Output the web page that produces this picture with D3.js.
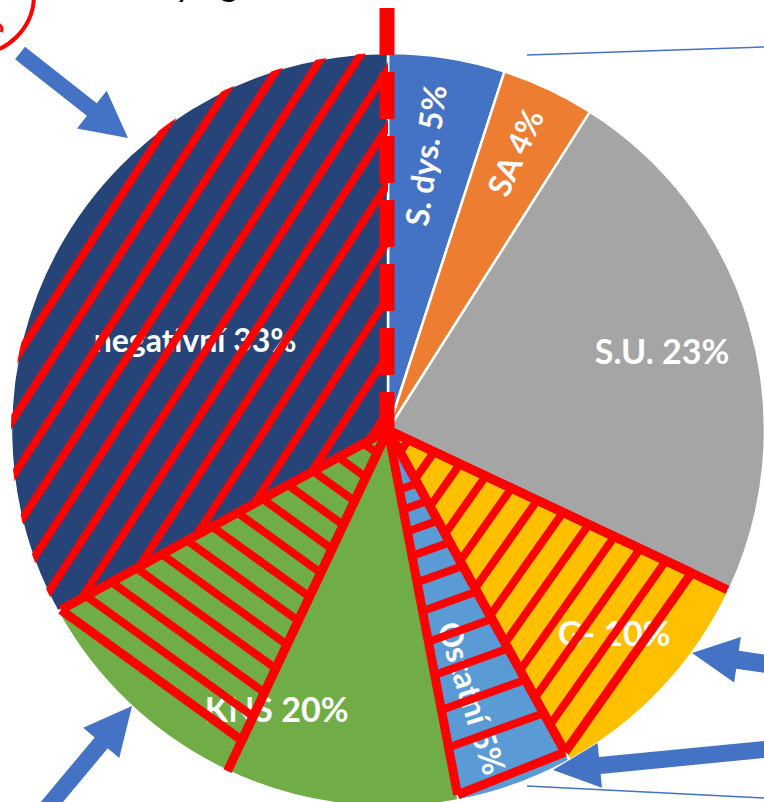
<!DOCTYPE html>
<html>
<head>
<meta charset="utf-8">
<script src="https://cdn.jsdelivr.net/npm/d3@7/dist/d3.min.js"></script>
<style>
  body { margin: 0; background: #fff; overflow: hidden; }
  svg { display: block; }
</style>
</head>
<body>
<div id="pie-graph"></div>
<script>
// chart data
var pie_categories = ["S. dys.", "SA", "S.U.", "G-", "Ostatní", "KNS", "negativní"];
var pie_values = [5, 4, 23, 10, 5, 20, 33];
var pie_colors = ["#4472C4", "#ED7D31", "#A5A5A5", "#FFC000", "#5B9BD5", "#70AD47", "#264478"];
var title_text = "Druhy agens";

// layout
var width = 764, height = 802;
var cx = 388, cy = 430, radius = 377;
var RED = "#FF0000", ARROW_COLOR = "#4472C4";

// label placement per slice (radius factor, angle shift in deg, rotated along radius, font size)
var label_style = {
  "S. dys.":   {rf: 0.735, da: -1.3, rot: true,  size: 32},
  "SA":        {rf: 0.81,  da: -0.7, rot: true,  size: 32},
  "S.U.":      {rf: 0.757, da: 0,    rot: false, size: 34},
  "G-":        {rf: 0.805, da: -1.4, rot: false, size: 34},
  "Ostatní":   {rf: 0.745, da: 2.3,  rot: true,  size: 32},
  "KNS":       {rf: 0.795, da: -3.4, rot: false, size: 34},
  "negativní": {rf: 0.565, da: -5.5, rot: false, size: 32}
};

var svg = d3.select("#pie-graph")
  .append("svg")
  .attr("width", width)
  .attr("height", height);

// title, mostly cut off at the top (as in the original)
svg.append("text")
  .attr("x", 95)
  .attr("y", -4)
  .attr("font-family", "Lato, 'Open Sans', sans-serif")
  .attr("font-size", 36)
  .attr("fill", "#000")
  .text(title_text);

var g = svg.append("g")
  .attr("transform", "translate(" + cx + "," + cy + ")");

var pie = d3.pie().sort(null).value(d => d.value);
var arcs = pie(pie_categories.map((c, i) => ({name: c, value: pie_values[i], color: pie_colors[i]})));
var arc = d3.arc().innerRadius(0).outerRadius(radius);

var byName = {};
arcs.forEach(a => byName[a.data.name] = a);

// slices
g.selectAll("path.slice")
  .data(arcs)
  .enter()
  .append("path")
  .attr("class", "slice")
  .attr("d", arc)
  .attr("fill", d => d.data.color)
  .attr("stroke", "#fff")
  .attr("stroke-width", 2.5);

function pt(a, r) { return [r * Math.sin(a), -r * Math.cos(a)]; }
function mid(d) { return (d.startAngle + d.endAngle) / 2; }

// labels
g.selectAll("text.label")
  .data(arcs)
  .enter()
  .append("text")
  .attr("class", "label")
  .attr("transform", d => {
    var s = label_style[d.data.name];
    var a = mid(d) + s.da * Math.PI / 180;
    var p = pt(a, radius * s.rf);
    var rot = s.rot ? (a * 180 / Math.PI - 90) : 0;
    return "translate(" + p[0] + "," + p[1] + ") rotate(" + rot + ")";
  })
  .attr("text-anchor", "middle")
  .attr("dominant-baseline", "central")
  .attr("font-family", "Lato, 'Open Sans', sans-serif")
  .attr("font-size", d => label_style[d.data.name].size)
  .attr("font-weight", "bold")
  .attr("fill", "#fff")
  .text(d => d.data.name + " " + d.data.value + "%");

// ---- red annotations ----
var ann = g.append("g");
var C = [0, 0];

function redLine(p, q, w) {
  ann.append("line")
    .attr("x1", p[0]).attr("y1", p[1])
    .attr("x2", q[0]).attr("y2", q[1])
    .attr("stroke", RED)
    .attr("stroke-width", w || 9)
    .attr("stroke-linecap", "butt");
}

// hatch of negativni slice, clipped to the slice
g.append("clipPath")
  .attr("id", "neg-clip")
  .append("path")
  .attr("d", arc(byName["negativní"]));

var hatchAngle = 57 * Math.PI / 180;
var dirN = [Math.cos(hatchAngle), -Math.sin(hatchAngle)];
var normN = [Math.sin(hatchAngle), Math.cos(hatchAngle)];
var baseN = [-358, 20];
var negHatch = ann.append("g").attr("clip-path", "url(#neg-clip)");
for (var k = -5; k <= 25; k++) {
  var p = [baseN[0] + k * 31 * normN[0], baseN[1] + k * 31 * normN[1]];
  negHatch.append("line")
    .attr("x1", p[0] - 900 * dirN[0]).attr("y1", p[1] - 900 * dirN[1])
    .attr("x2", p[0] + 900 * dirN[0]).attr("y2", p[1] + 900 * dirN[1])
    .attr("stroke", RED)
    .attr("stroke-width", 8);
}

// hatch inside a triangle C-E1-E2, lines parallel to E1-E2
function hatchTriangle(E1, E2, spacing) {
  var dx = E2[0] - E1[0], dy = E2[1] - E1[1];
  var len = Math.hypot(dx, dy);
  var h = Math.abs(E1[0] * dy - E1[1] * dx) / len;
  for (var s = spacing; s < h - 4; s += spacing) {
    var t = 1 - s / h;
    redLine([E1[0] * t, E1[1] * t], [E2[0] * t, E2[1] * t], 8);
  }
  redLine(C, E1);
  redLine(E1, E2);
  redLine(E2, C);
}

var kns = byName["KNS"], gneg = byName["G-"], ost = byName["Ostatní"];

// KNS: half of the slice hatched
var P1 = pt(kns.endAngle, radius * 0.99);
var P2 = pt(mid(kns), radius * 0.91);
hatchTriangle(P2, P1, 26);
redLine(C, pt(mid(kns), radius));

// G-: triangle hatched
var Q1 = pt(gneg.startAngle, radius * 0.89);
var Q2 = pt(gneg.endAngle, radius * 0.975);
hatchTriangle(Q1, Q2, 28);
redLine(C, pt(gneg.startAngle, radius * 0.995));

// Ostatni: rungs across the slice
var A = Q2;
var B = pt(ost.endAngle, radius * 0.985);
g.append("clipPath")
  .attr("id", "ost-clip")
  .append("path")
  .attr("d", "M0,0L" + A[0] + "," + A[1] + "L" + B[0] + "," + B[1] + "Z");
var om = mid(ost);
var rungDir = [Math.cos(om), Math.sin(om)];
var rungs = ann.append("g").attr("clip-path", "url(#ost-clip)");
for (var d = 60, step = 20; d < 345; d += step, step += 2.2) {
  var c0 = pt(om, d);
  rungs.append("line")
    .attr("x1", c0[0] - 80 * rungDir[0]).attr("y1", c0[1] - 80 * rungDir[1])
    .attr("x2", c0[0] + 80 * rungDir[0]).attr("y2", c0[1] + 80 * rungDir[1])
    .attr("stroke", RED)
    .attr("stroke-width", 8);
}
redLine(C, A);
redLine(A, B);
redLine(B, C);

// dashed red vertical line at 12 o'clock
svg.append("line")
  .attr("x1", 387).attr("y1", 8)
  .attr("x2", 387).attr("y2", 438)
  .attr("stroke", RED)
  .attr("stroke-width", 15)
  .attr("stroke-dasharray", "47,17");

// red circle top left
svg.append("circle")
  .attr("cx", -25).attr("cy", -5)
  .attr("r", 59)
  .attr("fill", "none")
  .attr("stroke", RED)
  .attr("stroke-width", 4);
svg.append("path")
  .attr("d", "M-2,24 Q4,27 1,32")
  .attr("fill", "none")
  .attr("stroke", RED)
  .attr("stroke-width", 3);

// ---- blue arrows ----
function arrow(tail, tip, shaftW, headW, headL) {
  var dx = tip[0] - tail[0], dy = tip[1] - tail[1];
  var len = Math.hypot(dx, dy);
  var ux = dx / len, uy = dy / len;
  var nx = -uy, ny = ux;
  var bx = tip[0] - ux * headL, by = tip[1] - uy * headL;
  var pts = [
    [tail[0] + nx * shaftW / 2, tail[1] + ny * shaftW / 2],
    [bx + nx * shaftW / 2, by + ny * shaftW / 2],
    [bx + nx * headW / 2, by + ny * headW / 2],
    tip,
    [bx - nx * headW / 2, by - ny * headW / 2],
    [bx - nx * shaftW / 2, by - ny * shaftW / 2],
    [tail[0] - nx * shaftW / 2, tail[1] - ny * shaftW / 2]
  ];
  svg.append("path")
    .attr("d", d3.line()(pts) + "Z")
    .attr("fill", ARROW_COLOR);
}

arrow([20, 53], [128, 138], 16, 48, 46);
arrow([36, 821], [132, 706], 17, 47, 48);
arrow([800, 669], [692, 653], 18, 46, 46);
arrow([800, 746], [553, 770], 17, 45, 47);

// thin blue lines at the right
svg.append("line")
  .attr("x1", 527).attr("y1", 55).attr("x2", 764).attr("y2", 47)
  .attr("stroke", ARROW_COLOR).attr("stroke-width", 1.5);
svg.append("line")
  .attr("x1", 527).attr("y1", 786).attr("x2", 764).attr("y2", 798)
  .attr("stroke", ARROW_COLOR).attr("stroke-width", 1.5);
</script>
</body>
</html>
